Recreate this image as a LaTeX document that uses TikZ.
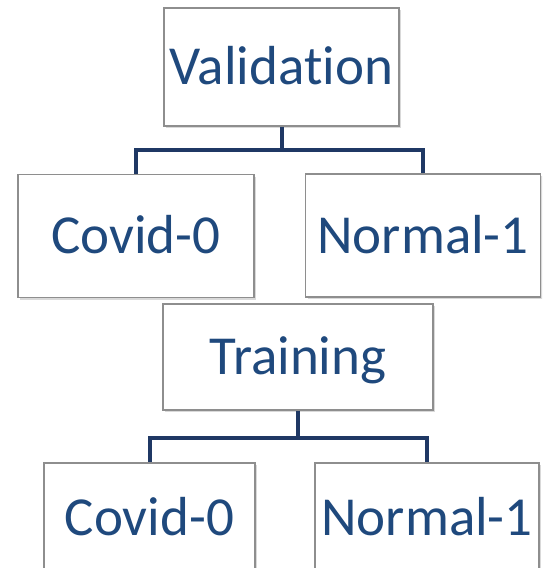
\documentclass[tikz,border=0pt]{standalone}
\usepackage{fontspec}
\setmainfont{Carlito}[Ligatures={NoCommon,NoRare}]
\usepackage{tikz}
\usetikzlibrary{calc, shadows}
\definecolor{boxtext}{HTML}{1F497D}
\definecolor{linkline}{HTML}{1F3864}
\definecolor{boxedge}{HTML}{8E8E8E}
\tikzset{
  catbox/.style={draw=boxedge, line width=1.3pt, fill=white, inner sep=0pt,
    font=\fontsize{55}{60}\selectfont, text=boxtext, text height=35pt, text depth=0pt,
    drop shadow={shadow xshift=2pt, shadow yshift=-2pt, opacity=0.25, fill=black!60}},
  link/.style={draw=linkline, line width=4pt}
}

\begin{document}
\begin{tikzpicture}[x=1pt,y=-1pt]
                    \useasboundingbox (0,0) rectangle (542,568);
                    \clip (0,0) rectangle (542,568);
                    \node[catbox, minimum width=235pt, minimum height=118pt] (val) at (281.5,67) {Validation};
                    \node[catbox, minimum width=236pt, minimum height=123pt] (vcov) at (136,236) {Covid-0};
                    \node[catbox, minimum width=235pt, minimum height=123pt] (vnor) at (423,235.5) {Normal-1};
                    \node[catbox, minimum width=270pt, minimum height=106pt] (train) at (298,357) {Training};
                    \node[catbox, minimum width=211pt, minimum height=109pt] (tcov) at (149.5,517.5) {Covid-0};
                    \node[catbox, minimum width=224pt, minimum height=109pt] (tnor) at (427,517.5) {Normal-1};
                    \coordinate (vsplit) at ($(val.south)+(0,23)$);
                    \coordinate (tsplit) at ($(train.south)+(0,27)$);
                    \draw[link] (val.south) -- (vsplit);
                    \draw[link] (vsplit) -| (vcov.north);
                    \draw[link] (vsplit) -| (vnor.north);
                    \draw[link] (train.south) -- (tsplit);
                    \draw[link] (tsplit) -| (tcov.north);
                    \draw[link] (tsplit) -| (tnor.north);
                  \end{tikzpicture}
\end{document}
